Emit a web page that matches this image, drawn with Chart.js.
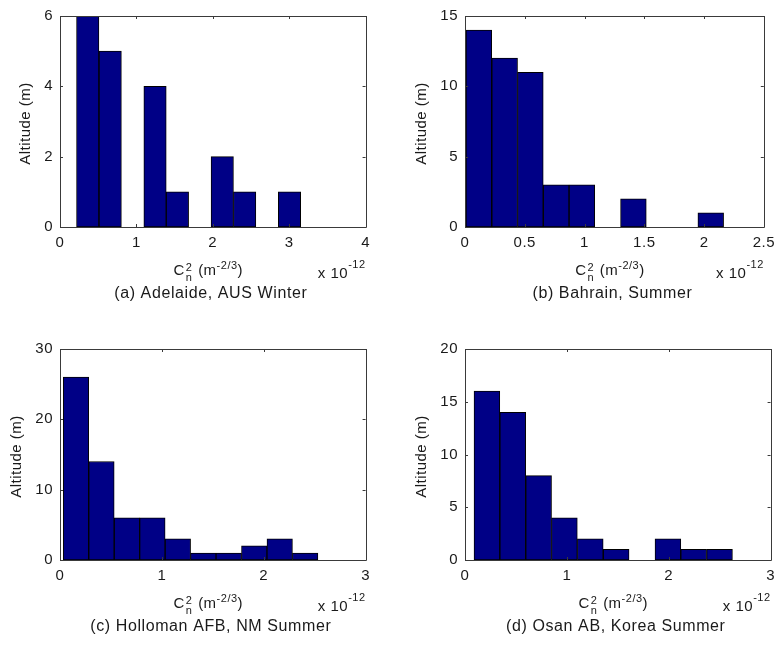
<!DOCTYPE html>
<html>
<head>
<meta charset="utf-8">
<script src="https://cdn.jsdelivr.net/npm/chart.js@4.4.1/dist/chart.umd.min.js"></script>
<style>
  html, body { margin: 0; padding: 0; background: #fff; width: 782px; height: 647px; overflow: hidden; }
  canvas { position: absolute; }
</style>
</head>
<body>
<canvas id="pa" width="377" height="320" style="left:0px;top:0px"></canvas>
<canvas id="pb" width="377" height="320" style="left:405px;top:0px"></canvas>
<canvas id="pc" width="377" height="314" style="left:0px;top:333px"></canvas>
<canvas id="pd" width="377" height="314" style="left:405px;top:333px"></canvas>
<script>
// Histogram bin centres (units of 1e-12 m^-2/3) and counts for each site
const adelaideBins   = [0.363, 0.657, 0.950, 1.244, 1.537, 1.830, 2.124, 2.417, 2.711, 3.004];
const adelaideCounts = [6, 5, 0, 4, 1, 0, 2, 1, 0, 1];

const bahrainBins   = [0.116, 0.332, 0.547, 0.763, 0.978, 1.194, 1.409, 1.625, 1.840, 2.056];
const bahrainCounts = [14, 12, 11, 3, 3, 0, 2, 0, 0, 1];

const hollomanBins   = [0.157, 0.407, 0.657, 0.907, 1.157, 1.407, 1.657, 1.907, 2.157, 2.407];
const hollomanCounts = [26, 14, 6, 6, 3, 1, 1, 2, 3, 1];

const osanBins   = [0.215, 0.469, 0.723, 0.976, 1.230, 1.484, 1.738, 1.992, 2.245, 2.499];
const osanCounts = [16, 14, 8, 4, 2, 1, 0, 2, 1, 1];

// Axis tick values
const adelaideXTicks = [0, 1, 2, 3, 4];
const adelaideYTicks = [0, 2, 4, 6];
const bahrainXTicks  = [0, 0.5, 1, 1.5, 2, 2.5];
const bahrainYTicks  = [0, 5, 10, 15];
const hollomanXTicks = [0, 1, 2, 3];
const hollomanYTicks = [0, 10, 20, 30];
const osanXTicks     = [0, 1, 2, 3];
const osanYTicks     = [0, 5, 10, 15, 20];

// Captions
const captions = [
  '(a) Adelaide, AUS Winter',
  '(b) Bahrain, Summer',
  '(c) Holloman AFB, NM Summer',
  '(d) Osan AB, Korea Summer'
];

const FONT = '"Liberation Sans", Arial, Helvetica, sans-serif';
const FS = 15, FS_SMALL = 11, FS_CAPTION = 16;
const SPACING = '0.5px';
const TEXT = '#1a1a1a';
const AXIS = '#3a3a3a';
const BAR  = '#000086';

// Box frame, inward tick marks and the annotation texts around each axes
const framePlugin = {
  id: 'frame',
  beforeUpdate(chart) { chart.ctx.letterSpacing = SPACING; },
  beforeDraw(chart)   { chart.ctx.letterSpacing = SPACING; },
  afterDatasetsDraw(chart) {
    const ctx = chart.ctx;
    const a = chart.chartArea;
    const xs = chart.scales.x, ys = chart.scales.y;
    ctx.save();
    ctx.strokeStyle = AXIS;
    ctx.lineWidth = 1;
    ctx.beginPath();
    ctx.rect(Math.round(a.left) + 0.5, Math.round(a.top) + 0.5,
             Math.round(a.right - a.left), Math.round(a.bottom - a.top));
    ctx.stroke();
    const T = 3;
    ctx.beginPath();
    xs.ticks.forEach(t => {
      const px = Math.round(xs.getPixelForValue(t.value)) + 0.5;
      ctx.moveTo(px, a.bottom); ctx.lineTo(px, a.bottom - T);
      ctx.moveTo(px, a.top);    ctx.lineTo(px, a.top + T);
    });
    ys.ticks.forEach(t => {
      const py = Math.round(ys.getPixelForValue(t.value)) + 0.5;
      ctx.moveTo(a.left, py);  ctx.lineTo(a.left + T, py);
      ctx.moveTo(a.right, py); ctx.lineTo(a.right - T, py);
    });
    ctx.stroke();
    ctx.restore();
  },
  afterDraw(chart, args, opts) {
    const ctx = chart.ctx;
    const a = chart.chartArea;
    const ys = chart.scales.y;
    const cx = (a.left + a.right) / 2;
    const big = FS + 'px ' + FONT, small = FS_SMALL + 'px ' + FONT;
    ctx.save();
    ctx.letterSpacing = SPACING;
    ctx.fillStyle = TEXT;
    ctx.textBaseline = 'alphabetic';

    // y-axis title, kept clear of the widest tick label
    ctx.font = big;
    const labelW = Math.max(...ys.ticks.map(t => ctx.measureText(String(t.value)).width));
    const titleX = a.left - 7 - labelW - 18;
    ctx.save();
    ctx.translate(titleX, (a.top + a.bottom) / 2 + 2);
    ctx.rotate(-Math.PI / 2);
    ctx.textAlign = 'center'; ctx.textBaseline = 'middle';
    ctx.fillText('Altitude (m)', 0, 0);
    ctx.restore();

    // x-axis title: C_n^2 (m^-2/3)
    ctx.textAlign = 'left';
    const base = a.bottom + 48;
    ctx.font = big; const wC = ctx.measureText('C').width;
    const wMid = ctx.measureText(' (m').width;
    const wEnd = ctx.measureText(')').width;
    ctx.font = small;
    const wSS = Math.max(ctx.measureText('2').width, ctx.measureText('n').width) + 1;
    const wExp = ctx.measureText('-2/3').width;
    let x = cx - 5 - (wC + wSS + wMid + wExp + wEnd) / 2;
    ctx.font = big;  ctx.fillText('C', x, base); x += wC + 1;
    ctx.font = small; ctx.fillText('2', x, base - 4); ctx.fillText('n', x, base + 6); x += wSS;
    ctx.font = big;  ctx.fillText(' (m', x, base); x += wMid;
    ctx.font = small; ctx.fillText('-2/3', x, base - 6); x += wExp;
    ctx.font = big;  ctx.fillText(')', x, base);

    // exponent note at right
    ctx.font = small; const wE = ctx.measureText('-12').width;
    ctx.font = big;   const wX = ctx.measureText('x 10').width;
    const ex = a.right - wE - wX;
    ctx.fillText('x 10', ex, a.bottom + 51);
    ctx.font = small; ctx.fillText('-12', ex + wX, a.bottom + 41);

    // caption
    ctx.letterSpacing = '0.6px';
    ctx.font = FS_CAPTION + 'px ' + FONT; ctx.textAlign = 'center';
    ctx.fillText(opts.caption, cx - 2, a.bottom + 71);
    ctx.restore();
  }
};

function makeHistogram(id, bins, counts, xTicks, yTicks, caption) {
  const xMin = xTicks[0], xMax = xTicks[xTicks.length - 1];
  const yMin = yTicks[0], yMax = yTicks[yTicks.length - 1];
  const canvas = document.getElementById(id);
  return new Chart(canvas, {
    type: 'bar',
    data: {
      datasets: [{
        data: bins.map((b, i) => ({ x: b, y: counts[i] })),
        backgroundColor: BAR,
        borderColor: '#000',
        borderWidth: 1,
        borderSkipped: false,
        barPercentage: 1.0,
        categoryPercentage: 1.0,
        grouped: false
      }]
    },
    options: {
      responsive: false,
      animation: false,
      events: [],
      layout: { padding: { top: 12, right: 10, left: 0, bottom: 0 } },
      plugins: {
        legend: { display: false },
        tooltip: { enabled: false },
        frame: { caption }
      },
      scales: {
        x: {
          type: 'linear',
          offset: false,
          min: xMin, max: xMax,
          afterBuildTicks: s => { s.ticks = xTicks.map(v => ({ value: v })); },
          ticks: {
            font: { family: FONT, size: FS }, color: TEXT,
            padding: 7, maxRotation: 0, autoSkip: false,
            callback: v => String(v)
          },
          grid: { display: false, drawTicks: false },
          border: { display: false },
          afterFit: s => { s.height = canvas.height - 12 - 215; }
        },
        y: {
          type: 'linear',
          min: yMin, max: yMax,
          afterBuildTicks: s => { s.ticks = yTicks.map(v => ({ value: v })); },
          ticks: {
            font: { family: FONT, size: FS }, color: TEXT,
            padding: 7, autoSkip: false,
            callback: v => String(v)
          },
          grid: { display: false, drawTicks: false },
          border: { display: false },
          afterFit: s => { s.width = 60; }
        }
      }
    },
    plugins: [framePlugin]
  });
}

makeHistogram('pa', adelaideBins, adelaideCounts, adelaideXTicks, adelaideYTicks, captions[0]);
makeHistogram('pb', bahrainBins,  bahrainCounts,  bahrainXTicks,  bahrainYTicks,  captions[1]);
makeHistogram('pc', hollomanBins, hollomanCounts, hollomanXTicks, hollomanYTicks, captions[2]);
makeHistogram('pd', osanBins,     osanCounts,     osanXTicks,     osanYTicks,     captions[3]);
</script>
</body>
</html>
